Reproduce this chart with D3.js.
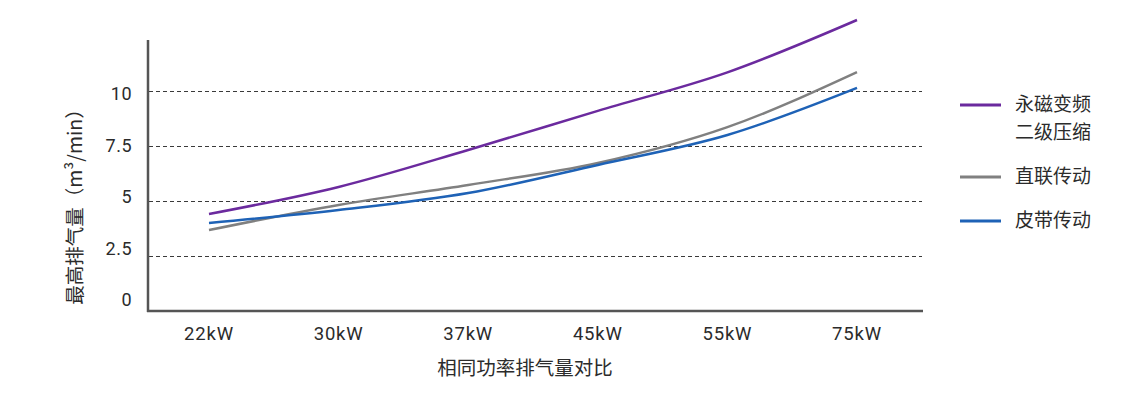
<!DOCTYPE html>
<html>
<head>
<meta charset="utf-8">
<script src="https://cdn.jsdelivr.net/npm/d3@7"></script>
<style>
  body { margin: 0; background: #fff; }
  text { font-family: "Noto Sans CJK SC", "Noto Sans", sans-serif; fill: #2b2b2b; }
</style>
</head>
<body>
<svg id="chart" width="1121" height="393"></svg>
<script>
const categories = ["22kW", "30kW", "37kW", "45kW", "55kW", "75kW"];
const seriesNames = ["永磁变频\n二级压缩", "直联传动", "皮带传动"];
const purpleValues = [4.41, 5.64, 7.32, 9.1, 10.85, 13.23];
const grayValues = [3.68, 4.82, 5.73, 6.73, 8.36, 10.86];
const blueValues = [4.0, 4.59, 5.36, 6.64, 8.0, 10.14];
const yTicks = [0, 2.5, 5, 7.5, 10];
const gridTicks = [2.5, 5, 7.5, 10];
const xTitle = "相同功率排气量对比";
const yTitle = "最高排气量（m³/min）";

const colors = ["#6b2a9e", "#808080", "#1e62b6"];
const series = [purpleValues, grayValues, blueValues];

const svg = d3.select("#chart");
const x = d3.scalePoint().domain(categories).range([209, 857]);
const y = d3.scaleLinear().domain([0, 12.32]).range([311, 40]);
const yLabel = d3.scaleLinear().domain([0, 10]).range([300, 94]);

// gridlines
svg.append("g").selectAll("line").data(gridTicks).join("line")
  .attr("x1", 149).attr("x2", 922)
  .attr("y1", d => Math.round(y(d)) + 0.5).attr("y2", d => Math.round(y(d)) + 0.5)
  .attr("stroke", "#3a3a3a").attr("stroke-width", 1)
  .attr("stroke-dasharray", "4,3");

// axes lines
svg.append("line").attr("x1", 148).attr("x2", 148).attr("y1", 40).attr("y2", 312)
  .attr("stroke", "#555").attr("stroke-width", 2.5);
svg.append("line").attr("x1", 147).attr("x2", 923).attr("y1", 311).attr("y2", 311)
  .attr("stroke", "#555").attr("stroke-width", 2.5);

// y tick labels
svg.append("g").selectAll("text").data(yTicks).join("text")
  .attr("x", 132).attr("y", d => yLabel(d))
  .attr("dy", "0.35em")
  .attr("text-anchor", "end")
  .style("font-family", "Roboto, 'DejaVu Sans', sans-serif")
  .style("font-size", "18px")
  .style("letter-spacing", "0.5px")
  .text(d => d);

// x tick labels
svg.append("g").selectAll("text").data(categories).join("text")
  .attr("x", d => x(d)).attr("y", 340)
  .attr("text-anchor", "middle")
  .style("font-family", "Roboto, 'DejaVu Sans', sans-serif")
  .style("font-size", "18.5px")
  .style("letter-spacing", "0.8px")
  .text(d => d);

// titles
svg.append("text").attr("x", 525).attr("y", 375)
  .attr("text-anchor", "middle").style("font-size", "19.5px").text(xTitle);
svg.append("text").attr("transform", "translate(82,202) rotate(-90)")
  .attr("text-anchor", "middle").style("font-size", "19.5px").text(yTitle);

// lines
const line = d3.line().x((d, i) => x(categories[i])).y(d => y(d)).curve(d3.curveMonotoneX);
svg.append("g").selectAll("path").data(series).join("path")
  .attr("d", d => line(d))
  .attr("fill", "none")
  .attr("stroke", (d, i) => colors[i])
  .attr("stroke-width", 2.5);

// legend
const legendY = [105, 177, 221];
const lg = svg.append("g").selectAll("g").data(seriesNames).join("g");
lg.append("line").attr("x1", 960).attr("x2", 1001)
  .attr("y1", (d, i) => legendY[i]).attr("y2", (d, i) => legendY[i])
  .attr("stroke", (d, i) => colors[i]).attr("stroke-width", 3);
lg.each(function(d, i) {
  const lines = d.split("\n");
  lines.forEach((s, j) => {
    d3.select(this).append("text")
      .attr("x", 1015).attr("y", legendY[i] + 6 + j * 28)
      .style("font-size", "19px")
      .text(s);
  });
});
</script>
</body>
</html>
